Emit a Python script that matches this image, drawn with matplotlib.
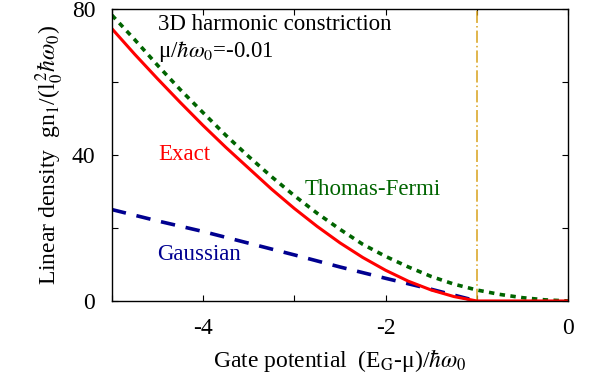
import matplotlib
matplotlib.use("Agg")
import matplotlib.pyplot as plt
from matplotlib.ticker import MultipleLocator

plt.rcParams['font.family'] = ['Liberation Serif', 'DejaVu Serif']
plt.rcParams['mathtext.fontset'] = 'stix'
plt.rcParams['axes.unicode_minus'] = False

# curves
x_exact = [-5, -4.75, -4.5, -4.25, -4, -3.75, -3.5, -3.25, -3, -2.75, -2.5,
           -2.25, -2, -1.75, -1.5, -1.25, -1, -0.5, 0]
y_exact = [74.5, 67.5, 60.8, 54.3, 48.0, 42.0, 36.3, 30.6, 25.3, 20.4, 15.9,
           11.9, 8.4, 5.4, 3.0, 1.2, 0, 0, 0]

x_tf = [-5, -4.75, -4.5, -4.25, -4, -3.75, -3.5, -3.25, -3, -2.75, -2.5,
        -2.25, -2, -1.75, -1.5, -1.25, -1, -0.75, -0.5, -0.25, 0]
y_tf = [78.2, 71.5, 64.5, 57.8, 51.5, 45.3, 39.5, 34.0, 28.8, 24.0, 19.6,
        15.5, 12.2, 9.3, 6.7, 4.6, 3.0, 1.8, 0.9, 0.3, 0]

x_gauss = [-5, -4.5, -4, -3.5, -3, -2.5, -2, -1.5, -1]
y_gauss = [25.0, 21.9, 19.0, 15.8, 12.6, 9.3, 6.2, 3.2, 0]

x_cut = -1

fig = plt.figure(figsize=(5.92, 3.8), dpi=100)
ax = fig.add_axes([0.189, 0.208, 0.7705, 0.7695])

ax.axvline(x_cut, color='#D9A21B', lw=1.1, ls=(0, (8, 2, 1, 2)))
ax.plot(x_gauss, y_gauss, color='#000090', lw=2.6, ls=(0, (4, 3)))
ax.plot(x_tf, y_tf, color='#006400', lw=2.6, ls=(0, (1.5, 1.5)))
ax.plot(x_exact, y_exact, color='#FF0000', lw=2.2)

ax.set_xlim(-5, 0)
ax.set_ylim(0, 80)
ax.xaxis.set_minor_locator(MultipleLocator(1))
ax.yaxis.set_major_locator(MultipleLocator(40))
ax.yaxis.set_minor_locator(MultipleLocator(20))
ax.set_xticks([-4, -2, 0])
ax.tick_params(which='both', direction='in', top=True, right=True,
               length=4, width=0.8, labelsize=17)
ax.tick_params(axis='x', pad=12)
ax.tick_params(axis='y', pad=12)
for s in ax.spines.values():
    s.set_linewidth(1.0)

ax.text(-4.21, 40, 'Exact', color='#FF0000', fontsize=16.5,
        ha='center', va='center')
ax.text(-2.14, 30.4, 'Thomas-Fermi', color='#006400', fontsize=16.5,
        ha='center', va='center')
ax.text(-4.04, 12.6, 'Gaussian', color='#000090', fontsize=16.5,
        ha='center', va='center')
ax.text(-4.5, 75.5, '3D harmonic constriction', fontsize=16.5,
        ha='left', va='center')
ax.text(-4.5, 68.3, r'μ/$\hbar\omega_0$=-0.01', fontsize=16.5,
        ha='left', va='center')

ax.set_xlabel(r'Gate potential  (E$_\mathrm{G}$-μ)/$\hbar\omega_0$',
              fontsize=17, labelpad=6)
ax.set_ylabel(r'Linear density  gn$_1$/(l$_0^{\,2}\hbar\omega_0$)',
              fontsize=17, labelpad=4)

fig.savefig('out.png', dpi=100)
